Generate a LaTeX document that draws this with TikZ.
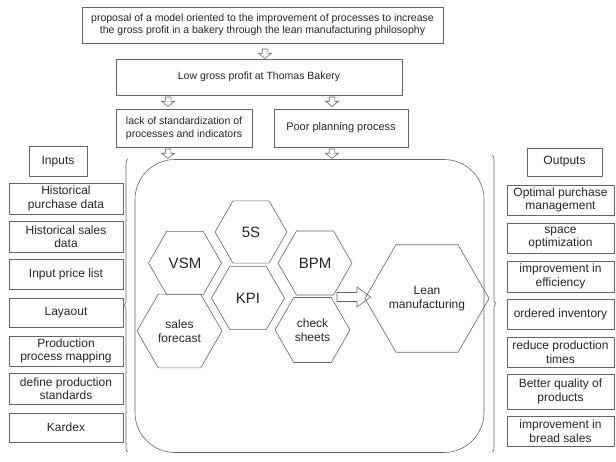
\documentclass[tikz,border=0pt]{standalone}
\usepackage{fontspec}
\setmainfont{Liberation Sans}
\usetikzlibrary{shapes.geometric,decorations.pathreplacing}
\begin{document}
\begin{tikzpicture}[x=1pt,y=-1pt,
  line width=0.6pt,
  every node/.style={text=black!85},
  box/.style={draw=black!60,align=center,inner sep=1pt,font=\fontsize{12}{13.5}\selectfont},
  hexa/.style={draw=black!60,regular polygon,regular polygon sides=6,inner sep=0pt,align=center},
  big/.style={font=\fontsize{15}{17}\selectfont},
  small/.style={font=\fontsize{12}{14}\selectfont},
  arrline/.style={draw=black!60,line join=miter},
  brc/.style={draw=black!60,decorate,decoration={brace,amplitude=4pt}}]
\useasboundingbox (0,0) rectangle (616,461);
% top chain
\node[box,minimum width=361pt,minimum height=36pt,font=\fontsize{10.5}{12.5}\selectfont] (top) at (262.5,25) {proposal of a model oriented to the improvement of processes to increase\\the gross profit in a bakery through the lean manufacturing philosophy};
\node[box,minimum width=286pt,minimum height=36pt,font=\fontsize{10.5}{12.5}\selectfont] (low) at (259,77) {Low gross profit at Thomas Bakery};
\node[box,minimum width=136pt,minimum height=38pt,align=left,font=\fontsize{10.5}{13}\selectfont] (lack) at (184,128) {lack of standardization of\\processes and indicators};
\node[box,minimum width=134pt,minimum height=38pt,font=\fontsize{11}{13}\selectfont] (poor) at (341,128) {Poor planning process};
\coordinate (a1) at (265,49);
\coordinate (a2) at (168,97);
\coordinate (a3) at (332,97);
\coordinate (a4) at (168,149);
\coordinate (a5) at (332,149);
\foreach \c in {a1,a2,a3,a4,a5}
  \draw[arrline,shift={(\c)}] (-2.8,0) -- (-2.8,4.2) -- (-6.5,4.2) -- (0,9.5) -- (6.5,4.2) -- (2.8,4.2) -- (2.8,0) -- cycle;
% inputs
\node[box,minimum width=58pt,minimum height=30pt] (inp) at (58,161.5) {Inputs};
\node[box,minimum width=114pt,minimum height=31pt] (i1) at (66,198.5) {Historical\\purchase data};
\node[box,minimum width=114pt,minimum height=31pt] (i2) at (66,236.5) {Historical sales\\data};
\node[box,minimum width=114pt,minimum height=30pt] (i3) at (66,274) {Input price list};
\node[box,minimum width=114pt,minimum height=29pt] (i4) at (66,312.5) {Layaout};
\node[box,minimum width=114pt,minimum height=30pt] (i5) at (66,351) {Production\\process mapping};
\node[box,minimum width=114pt,minimum height=31pt] (i6) at (66,388.5) {define production\\standards};
\node[box,minimum width=114pt,minimum height=29pt] (i7) at (66,427.5) {Kardex};
% outputs
\node[box,minimum width=75pt,minimum height=28pt] (outp) at (564.5,162) {Outputs};
\node[box,minimum width=107pt,minimum height=30pt] (o1) at (560.5,200) {Optimal purchase\\management};
\node[box,minimum width=107pt,minimum height=30pt] (o2) at (560.5,238) {space\\optimization};
\node[box,minimum width=107pt,minimum height=31pt] (o3) at (560.5,276.5) {improvement in\\efficiency};
\node[box,minimum width=107pt,minimum height=30pt] (o4) at (560.5,314) {ordered inventory};
\node[box,minimum width=107pt,minimum height=30pt] (o5) at (560.5,352) {reduce production\\times};
\node[box,minimum width=107pt,minimum height=35pt] (o6) at (560.5,391.5) {Better quality of\\products};
\node[box,minimum width=107pt,minimum height=30pt] (o7) at (560.5,431) {improvement in\\bread sales};
% container
\node[draw=black!60,rounded corners=40pt,minimum width=349pt,minimum height=293pt] (cont) at (309.5,306) {};
\coordinate (lb1) at (128,452);
\coordinate (lb2) at (128,159);
\coordinate (rb1) at (492,155);
\coordinate (rb2) at (492,452);
\draw[brc] (lb1) -- (lb2);
\draw[brc] (rb1) -- (rb2);
% hexagons
\node[hexa,minimum size=72pt,big] (s5) at (251,232) {5S};
\node[hexa,minimum size=73pt,big] (vsm) at (185,263) {VSM};
\node[hexa,minimum size=74pt,big] (bpm) at (315,263) {BPM};
\node[hexa,minimum size=73pt,big] (kpi) at (248,298) {KPI};
\node[hexa,minimum size=85pt,small] (sf) at (179.5,331) {sales\\forecast};
\node[hexa,minimum size=75pt,small] (cs) at (312.5,330) {check\\sheets};
\node[hexa,minimum size=113pt,small] (lean) at (427,298.5) {Lean\\manufacturing};
\coordinate (ar) at (337,297);
\draw[arrline,shift={(ar)}] (0,-4.5) -- (20,-4.5) -- (20,-10) -- (33.5,0) -- (20,10) -- (20,4.5) -- (0,4.5) -- cycle;
\end{tikzpicture}
\end{document}
